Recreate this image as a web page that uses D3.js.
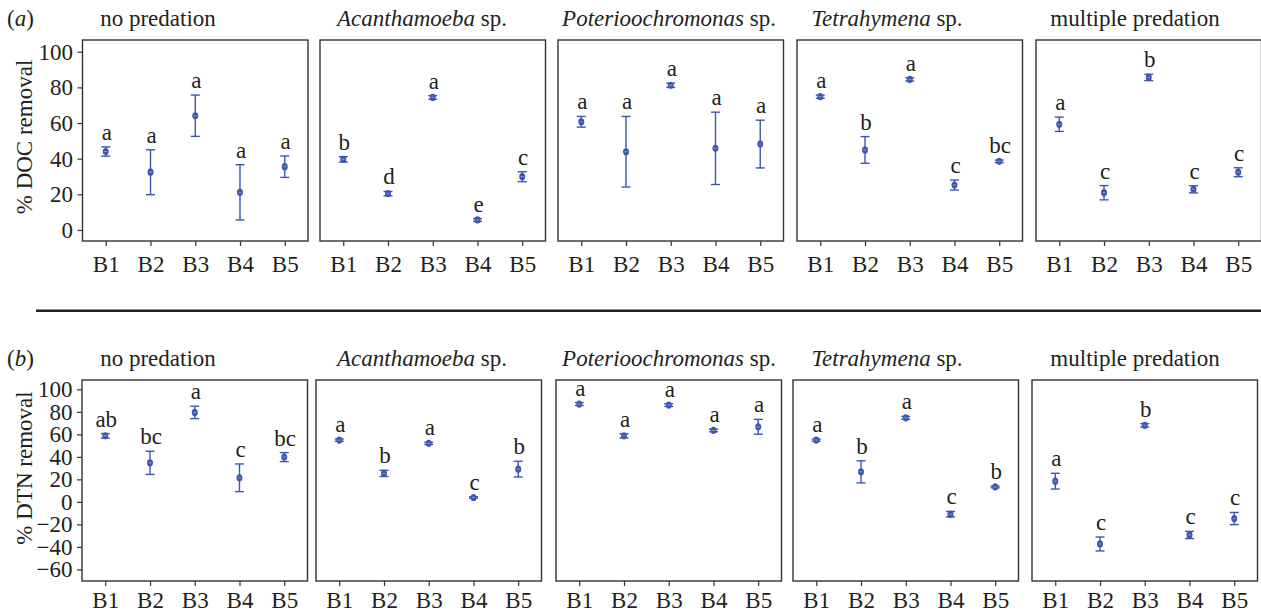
<!DOCTYPE html>
<html>
<head>
<meta charset="utf-8">
<script src="https://cdn.jsdelivr.net/npm/d3@7/dist/d3.min.js"></script>
<style>
    body { margin: 0; background: #fff; }
    svg text { font-family: "Liberation Serif", "DejaVu Serif", "Times New Roman", serif; fill: #231f20; }
</style>
</head>
<body>
<div id="chart"></div>
<script>
// groups on the x axis
var groups = ['B1', 'B2', 'B3', 'B4', 'B5'];

// panel titles (species names are italic)
var predators = ['no predation', 'Acanthamoeba', 'Poterioochromonas', 'Tetrahymena', 'multiple predation'];
var isSpecies = [false, true, true, true, false];

// (a) % DOC removal: mean, error, letters
var docMean = [
    [44, 32.4, 64.1, 21.1, 35.5],
    [39.6, 20.4, 74.4, 5.6, 29.9],
    [60.7, 43.9, 81.2, 45.8, 48.2],
    [74.8, 44.9, 84.5, 25.2, 38.5],
    [59.3, 20.9, 85.6, 22.8, 32.4]
];
var docErr = [
    [2.6, 12.6, 11.6, 15.5, 6],
    [1.5, 1.2, 1, 0.8, 2.8],
    [3, 19.8, 1.2, 20.3, 13.4],
    [0.9, 7.5, 0.9, 2.8, 0.7],
    [4, 4, 1.8, 2, 2.5]
];
var docLetters = [
    ['a', 'a', 'a', 'a', 'a'],
    ['b', 'd', 'a', 'e', 'c'],
    ['a', 'a', 'a', 'a', 'a'],
    ['a', 'b', 'a', 'c', 'bc'],
    ['a', 'c', 'b', 'c', 'c']
];
var docTicks = [0, 20, 40, 60, 80, 100];

// (b) % DTN removal
var dtnMean = [
    [58.7, 34.7, 79.5, 21.4, 39.8],
    [54.9, 25.3, 52, 3.9, 29.1],
    [86.9, 58.7, 86, 63.5, 66.7],
    [54.9, 26.7, 74.7, -10.9, 13.3],
    [18.4, -37.4, 68, -29.4, -14.8]
];
var dtnErr = [
    [2, 10.3, 5.5, 12.3, 4],
    [1, 2.8, 1, 0.7, 7],
    [1.3, 1.8, 1.2, 1.2, 6.6],
    [1, 9.8, 1.3, 2.4, 0.8],
    [7, 6.2, 1.5, 3.2, 5.4]
];
var dtnLetters = [
    ['ab', 'bc', 'a', 'c', 'bc'],
    ['a', 'b', 'a', 'c', 'b'],
    ['a', 'a', 'a', 'a', 'a'],
    ['a', 'b', 'a', 'c', 'b'],
    ['a', 'c', 'b', 'c', 'c']
];
var dtnTicks = [-60, -40, -20, 0, 20, 40, 60, 80, 100];

var blue = '#3d56b0';
var fontSize = 23;
var serif = '"Liberation Serif", "DejaVu Serif", "Times New Roman", serif';

var rows = [
    {tag: 'a', label: '% DOC removal', mean: docMean, err: docErr, letters: docLetters, ticks: docTicks,
        domain: [-6.2, 106.6], top: 40, bottom: 241, lefts: [82.5, 320, 558, 797, 1036], titleY: 137, xPad: 9.4},
    {tag: 'b', label: '% DTN removal', mean: dtnMean, err: dtnErr, letters: dtnLetters, ticks: dtnTicks,
        domain: [-70.3, 108.3], top: 380, bottom: 581, lefts: [82, 316, 556, 793, 1032], titleY: 468, xPad: 5.5}
];
var panelW = 225.5;
var titleX = [158, 422, 669, 887, 1135];

var svg = d3.select('#chart').append('svg')
    .attr('width', 1261)
    .attr('height', 614)
    .attr('font-family', serif);

// minus sign like the original
function fmt(d) {
    return d < 0 ? '\u2212' + Math.abs(d) : d;
}

rows.forEach(function (row) {
    var y = d3.scaleLinear().domain(row.domain).range([row.bottom, row.top]);

    // (a) / (b)
    var tag = svg.append('text')
        .attr('x', 7)
        .attr('y', row.top - 14)
        .style('font-size', fontSize + 'px');
    tag.append('tspan').text('(');
    tag.append('tspan').style('font-style', 'italic').text(row.tag);
    tag.append('tspan').text(')');

    // y axis title
    svg.append('text')
        .attr('transform', 'translate(32,' + row.titleY + ') rotate(-90)')
        .attr('text-anchor', 'middle')
        .style('font-size', fontSize + 'px')
        .text(row.label);

    predators.forEach(function (name, p) {
        var left = row.lefts[p];
        var x = d3.scalePoint().domain(groups).range([left, left + panelW]).padding(0.52);
        var g = svg.append('g');

        // title
        var t = g.append('text')
            .attr('x', titleX[p])
            .attr('y', row.top - 14)
            .attr('text-anchor', 'middle')
            .style('font-size', fontSize + 'px');
        if (isSpecies[p]) {
            t.append('tspan').style('font-style', 'italic').text(name);
            t.append('tspan').text(' sp.');
        } else {
            t.text(name);
        }

        // frame
        g.append('rect')
            .attr('x', left)
            .attr('y', row.top)
            .attr('width', panelW)
            .attr('height', row.bottom - row.top)
            .attr('fill', 'none')
            .attr('stroke', '#333')
            .attr('stroke-width', 1.4);

        // x axis
        var xa = g.append('g')
            .attr('transform', 'translate(0,' + row.bottom + ')')
            .call(d3.axisBottom(x).tickSize(5).tickPadding(row.xPad));
        xa.attr('font-family', serif);
        xa.select('.domain').remove();
        xa.selectAll('line').attr('stroke', '#333').attr('stroke-width', 1.2);
        xa.selectAll('text').style('font-size', fontSize + 'px').attr('fill', '#231f20');

        // y axis only on the first panel
        if (p === 0) {
            var ya = g.append('g')
                .attr('transform', 'translate(' + left + ',0)')
                .call(d3.axisLeft(y).tickValues(row.ticks).tickFormat(fmt).tickSize(5).tickPadding(4.5));
            ya.attr('font-family', serif);
            ya.select('.domain').remove();
            ya.selectAll('line').attr('stroke', '#333').attr('stroke-width', 1.2);
            ya.selectAll('text').style('font-size', fontSize + 'px').attr('fill', '#231f20');
        }

        var pts = groups.map(function (grp, i) {
            return {grp: grp, m: row.mean[p][i], e: row.err[p][i], l: row.letters[p][i]};
        });

        var pt = g.selectAll('.pt').data(pts).enter().append('g').attr('class', 'pt');

        // error bars
        pt.append('line')
            .attr('x1', function (d) { return x(d.grp); })
            .attr('x2', function (d) { return x(d.grp); })
            .attr('y1', function (d) { return y(d.m + d.e); })
            .attr('y2', function (d) { return y(d.m - d.e); })
            .attr('stroke', blue).attr('stroke-width', 1.4);
        [1, -1].forEach(function (s) {
            pt.append('line')
                .attr('x1', function (d) { return x(d.grp) - 4.5; })
                .attr('x2', function (d) { return x(d.grp) + 4.5; })
                .attr('y1', function (d) { return y(d.m + s * d.e); })
                .attr('y2', function (d) { return y(d.m + s * d.e); })
                .attr('stroke', blue).attr('stroke-width', 1.4);
        });

        // mean marker
        pt.append('ellipse')
            .attr('cx', function (d) { return x(d.grp); })
            .attr('cy', function (d) { return y(d.m); })
            .attr('rx', 3)
            .attr('ry', 3.6)
            .attr('fill', blue);
        pt.append('line')
            .attr('x1', function (d) { return x(d.grp) - 1.6; })
            .attr('x2', function (d) { return x(d.grp) + 1.6; })
            .attr('y1', function (d) { return y(d.m); })
            .attr('y2', function (d) { return y(d.m); })
            .attr('stroke', '#9aa8dc').attr('stroke-width', 0.8);

        // group letters
        pt.append('text')
            .attr('x', function (d) { return x(d.grp) + 1; })
            .attr('y', function (d) { return y(d.m + d.e) - 7; })
            .attr('text-anchor', 'middle')
            .style('font-size', fontSize + 'px')
            .text(function (d) { return d.l; });
    });
});

// separator between (a) and (b)
svg.append('line')
    .attr('x1', 36).attr('x2', 1261)
    .attr('y1', 310.7).attr('y2', 310.7)
    .attr('stroke', '#231f20')
    .attr('stroke-width', 2.6);
</script>
</body>
</html>
